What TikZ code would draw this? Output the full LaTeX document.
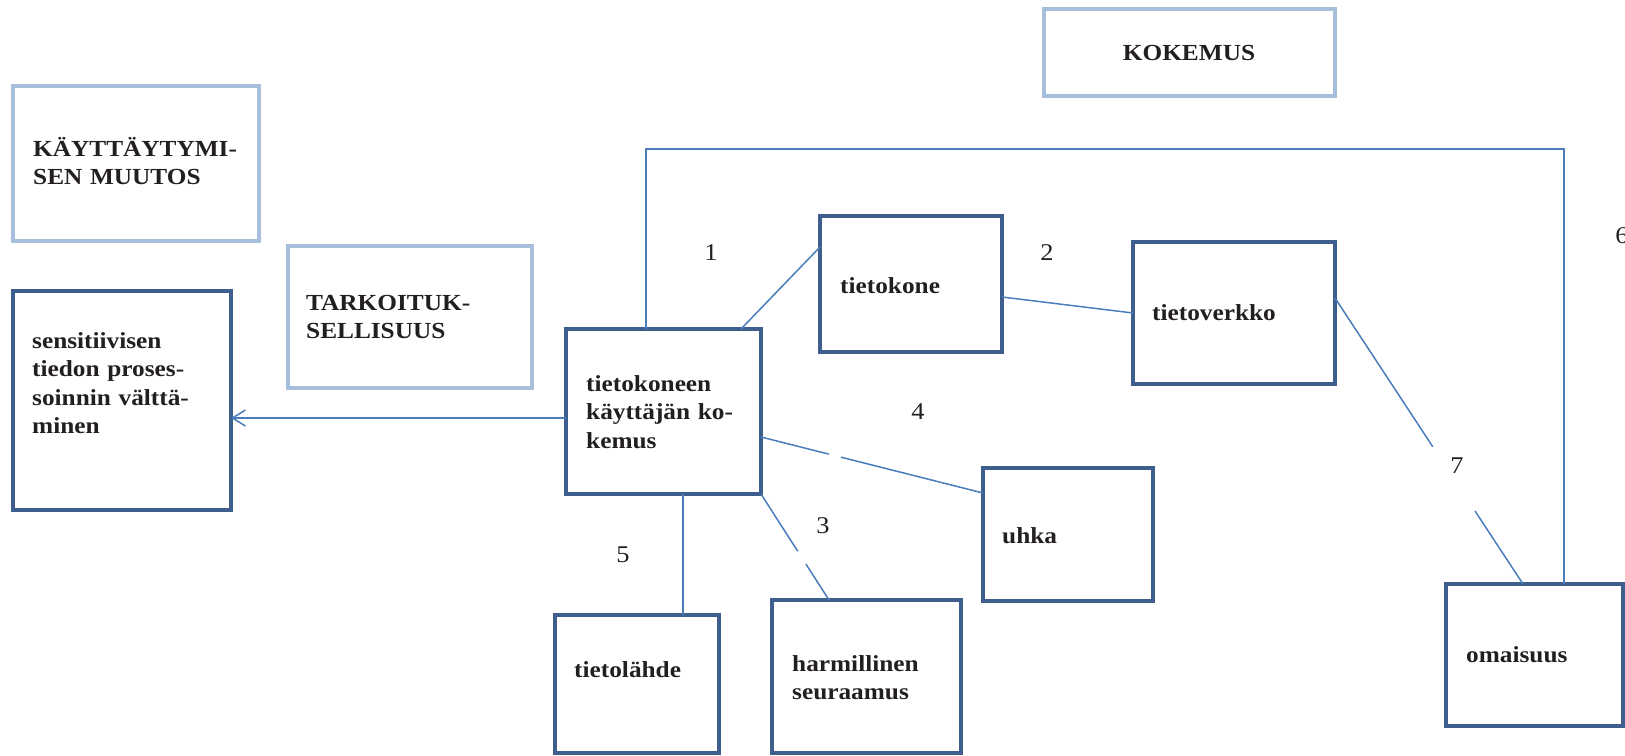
\documentclass[tikz,border=0pt]{standalone}
\usepackage{fontspec}
\setmainfont{Liberation Serif}[FakeStretch=1.1]
\usetikzlibrary{arrows.meta}
\definecolor{darkedge}{RGB}{62,95,142}
\definecolor{lightedge}{RGB}{167,190,220}
\definecolor{linkblue}{RGB}{74,125,187}
\definecolor{ink}{RGB}{35,31,32}
\tikzset{
  dbox/.style={draw=darkedge, line width=4pt, inner sep=0pt, outer sep=0pt},
  lbox/.style={draw=lightedge, line width=3.5pt, inner sep=0pt, outer sep=0pt},
  link/.style={draw=linkblue, line width=1.5pt},
  txt/.style={text=ink, inner sep=0pt, font=\fontsize{23}{28.5}\selectfont\bfseries},
  mtxt/.style={txt, anchor=north west, align=left},
  num/.style={text=ink, inner sep=0pt, font=\fontsize{24}{28}\selectfont}
}
\begin{document}
\begin{tikzpicture}[x=1pt,y=-1pt]
\useasboundingbox (0,0) rectangle (1625,755);

% frames
\node[lbox, minimum width=291pt, minimum height=87pt]  (kok)    at (1189.5,52.5) {};
\node[lbox, minimum width=246pt, minimum height=155pt] (behav)  at (136,163.5)   {};
\node[lbox, minimum width=244pt, minimum height=142pt] (purp)   at (410,317)     {};
\node[dbox, minimum width=218pt, minimum height=219pt] (avoid)  at (122,400.5)   {};
\node[dbox, minimum width=195pt, minimum height=165pt] (user)   at (663.5,411.5) {};
\node[dbox, minimum width=182pt, minimum height=136pt] (comp)   at (911,284)     {};
\node[dbox, minimum width=202pt, minimum height=142pt] (net)    at (1234,313)    {};
\node[dbox, minimum width=170pt, minimum height=133pt] (threat) at (1068,534.5)  {};
\node[dbox, minimum width=164pt, minimum height=138pt] (src)    at (637,684)     {};
\node[dbox, minimum width=189pt, minimum height=153pt] (harm)   at (866.5,676.5) {};
\node[dbox, minimum width=177pt, minimum height=142pt] (asset)  at (1534.5,655)  {};

% texts
\node[txt, anchor=base] (kokT) at (1189,60) {KOKEMUS};
\node[mtxt, text width=230pt] (behavT) at (33,136) {\strut KÄYTTÄYTYMI-\\SEN MUUTOS};
\node[mtxt, text width=200pt] (purpT) at (306,290) {\strut TARKOITUK-\\SELLISUUS};
\node[mtxt, text width=180pt] (avoidT) at (32,328) {\strut sensitiivisen\\
  \makebox[180pt][s]{tiedon proses-}\\
  \makebox[180pt][s]{soinnin välttä-}\\
  minen};
\node[mtxt, text width=156pt] (userT) at (586,371) {\strut tietokoneen\\
  \makebox[156pt][s]{käyttäjän ko-}\\
  kemus};
\node[txt, anchor=base west] (compT)   at (840,293)  {tietokone};
\node[txt, anchor=base west] (netT)    at (1152,320) {tietoverkko};
\node[txt, anchor=base west] (threatT) at (1002,543) {uhka};
\node[txt, anchor=base west] (srcT)    at (574,677)  {tietolähde};
\node[mtxt, text width=170pt] (harmT)  at (792,651)  {\strut harmillinen\\seuraamus};
\node[txt, anchor=base west] (assetT)  at (1466,662) {omaisuus};

% relation numbers
\node[num] (n1) at (711,253)  {1};
\node[num] (n2) at (1047,253) {2};
\node[num] (n3) at (823,526)  {3};
\node[num] (n4) at (918,412)  {4};
\node[num] (n5) at (623,555)  {5};
\node[num] (n6) at (1622,236) {6};
\node[num] (n7) at (1457,466) {7};

% connectors
\draw[link] ([xshift=-20]user.north east) -- ([yshift=-31]comp.north west);
\draw[link] ([yshift=-13]comp.east) -- (net.west);

\coordinate (u4) at ([yshift=-25.5]user.east);
\coordinate (t4) at ([yshift=-25]threat.north west);
\path (u4) -- coordinate[pos=0.306] (g4a) coordinate[pos=0.36] (g4b) (t4);
\draw[link] (u4) -- (g4a) (g4b) -- (t4);

\coordinate (h3) at ([xshift=-37.5]harm.north);
\path (user.south east) -- coordinate[pos=0.54] (g3a) coordinate[pos=0.66] (g3b) (h3);
\draw[link] (user.south east) -- (g3a) (g3b) -- (h3);

\coordinate (u5) at ([xshift=19.5]user.south);
\draw[link] (u5) -- (u5 |- src.north);

\coordinate (u6) at ([xshift=-17.5]user.north);
\coordinate (a6) at ([xshift=29.5]asset.north);
\coordinate (loopR) at (1564,149);
\draw[link] (u6) |- (loopR) -- (a6);

\coordinate (w7) at ([yshift=15]net.east);
\coordinate (a7) at ([xshift=-11.5]asset.north);
\path (w7) -- coordinate[pos=0.52] (g7a) coordinate[pos=0.745] (g7b) (a7);
\draw[link] (w7) -- (g7a) (g7b) -- (a7);

\coordinate (ua) at ([yshift=-6.5]user.west);
\draw[link, -{Straight Barb[length=13pt,width=16pt]}] (ua) -- (ua -| avoid.east);
\end{tikzpicture}
\end{document}
